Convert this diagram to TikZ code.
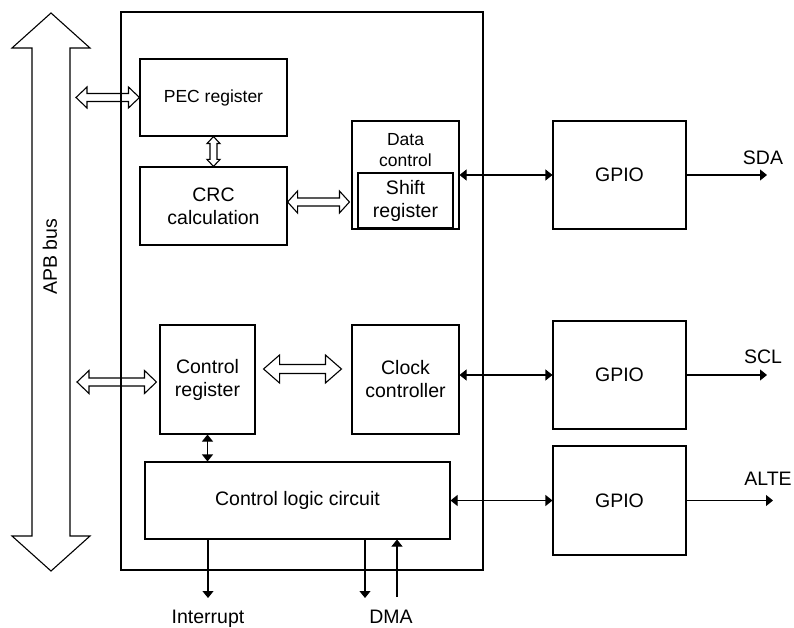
\documentclass[tikz,border=0pt]{standalone}
\usepackage{fontspec}
\setmainfont{Liberation Sans}
\usetikzlibrary{arrows.meta, calc}

% hollow double arrows (#1 shaft half width, #2 head half width, #3 head length)
\newcommand{\hbus}[5]{%
  \draw[hollow] let \p1=#4, \p2=#5 in
    (\x1,\y1) -- (\x1+#3,\y1+#2) -- (\x1+#3,\y1+#1) -- (\x2-#3,\y1+#1)
    -- (\x2-#3,\y1+#2) -- (\x2,\y1) -- (\x2-#3,\y1-#2) -- (\x2-#3,\y1-#1)
    -- (\x1+#3,\y1-#1) -- (\x1+#3,\y1-#2) -- cycle;}
\newcommand{\vbus}[5]{%
  \draw[hollow] let \p1=#4, \p2=#5 in
    (\x1,\y1) -- (\x1+#2,\y1-#3) -- (\x1+#1,\y1-#3) -- (\x1+#1,\y2+#3)
    -- (\x1+#2,\y2+#3) -- (\x1,\y2) -- (\x1-#2,\y2+#3) -- (\x1-#1,\y2+#3)
    -- (\x1-#1,\y1-#3) -- (\x1-#2,\y1-#3) -- cycle;}

\begin{document}
\begin{tikzpicture}[
    x=1pt, y=-1pt,
    >={Triangle[length=7pt, width=11pt]},
    line width=1.1pt,
    blocknode/.style={draw, inner sep=0pt, align=center,
      font=\fontsize{19.5}{23}\selectfont},
    smallnode/.style={blocknode, font=\fontsize{17.5}{21}\selectfont},
    gpionode/.style={blocknode, minimum width=133pt, minimum height=108pt},
    pinlabel/.style={inner sep=0pt, anchor=base,
      font=\fontsize{19.5}{23}\selectfont},
    hollow/.style={draw, line join=miter},
  ]

  % Bounding box
  \useasboundingbox (0,0) rectangle (794,628);

  % APB bus
  \vbus{19pt}{39pt}{35pt}{(51,13)}{(51,571)}
  \node[pinlabel, anchor=center, rotate=90] (apblabel) at (50,257) {APB bus};
  \coordinate (apbedge) at (76,292);

  % Peripheral frame
  \node[draw, minimum width=362pt, minimum height=558pt] (frame) at (302,291) {};

  % Blocks
  \node[smallnode, minimum width=147pt, minimum height=77pt] (pec) at (213.5,97.5) {PEC register};
  \node[blocknode, minimum width=147pt, minimum height=78pt] (crc) at (213.5,206) {CRC\\calculation};
  \node[blocknode, minimum width=107pt, minimum height=108pt] (datactl) at (405.5,175) {};
  \node[smallnode, draw=none] (datactltext) at (405.5,150) {Data\\control};
  \node[blocknode, minimum width=95pt, minimum height=55pt] (shiftreg) at (405.5,200.5) {Shift\\register};
  \node[blocknode, minimum width=95pt, minimum height=109pt] (ctrlreg) at (207.5,379.5) {Control\\register};
  \node[blocknode, minimum width=107pt, minimum height=109pt] (clkctl) at (405.5,379.5) {Clock\\controller};
  \node[blocknode, minimum width=305pt, minimum height=77pt] (ctrllogic) at (297.5,500.5) {Control logic circuit};

  % GPIO blocks
  \node[gpionode] (gpioa) at (619.5,175) {GPIO};
  \node[gpionode] (gpiob) at (619.5,375) {GPIO};
  \node[gpionode, minimum height=109pt] (gpioc) at (619.5,500.5) {GPIO};

  % Pins
  \coordinate (sdaend) at (767,175);
  \coordinate (sclend) at (767,375);
  \coordinate (alteend) at (773,500.5);
  \coordinate (irqend) at (208,598);
  \coordinate (dmaout) at (365,598);
  \coordinate (dmain) at (397,597);
  \node[pinlabel] (sda) at (763,165) {SDA};
  \node[pinlabel] (scl) at (763,363) {SCL};
  \node[pinlabel] (alte) at (768,485) {ALTE};
  \node[pinlabel] (irq) at (208,623) {Interrupt};
  \node[pinlabel] (dma) at (391,623) {DMA};

  % Hollow buses
  \hbus{4pt}{10.5pt}{11pt}{(apbedge |- pec.west)}{(pec.west)}
  \vbus{3.5pt}{6.5pt}{7pt}{(pec.south)}{(crc.north)}
  \hbus{4pt}{11pt}{10pt}{($(crc.east)+(0,-4)$)}{($(datactl.west)+(-2,-4)$)}
  \hbus{4pt}{11.5pt}{12pt}{($(apbedge |- ctrlreg.west)+(1,2.5)$)}{($(ctrlreg.west)+(-3,2.5)$)}
  \hbus{4.5pt}{14pt}{16pt}{($(ctrlreg.east)+(8,-10.5)$)}{($(clkctl.west)+(-10,-10.5)$)}

  % Signals
  \draw[<->] (datactl.east) -- (gpioa.west);
  \draw[<->] (clkctl.east |- gpiob.west) -- (gpiob.west);
  \draw[<->] (ctrllogic.east) -- (gpioc.west);
  \draw[<->] (ctrlreg.south) -- (ctrllogic.north -| ctrlreg.south);
  \draw[->] (gpioa.east) -- (sdaend);
  \draw[->] (gpiob.east) -- (sclend);
  \draw[->] (gpioc.east) -- (alteend);
  \draw[->] (ctrllogic.south -| irqend) -- (irqend);
  \draw[->] (ctrllogic.south -| dmaout) -- (dmaout);
  \draw[->] (dmain) -- (ctrllogic.south -| dmain);

\end{tikzpicture}
\end{document}
